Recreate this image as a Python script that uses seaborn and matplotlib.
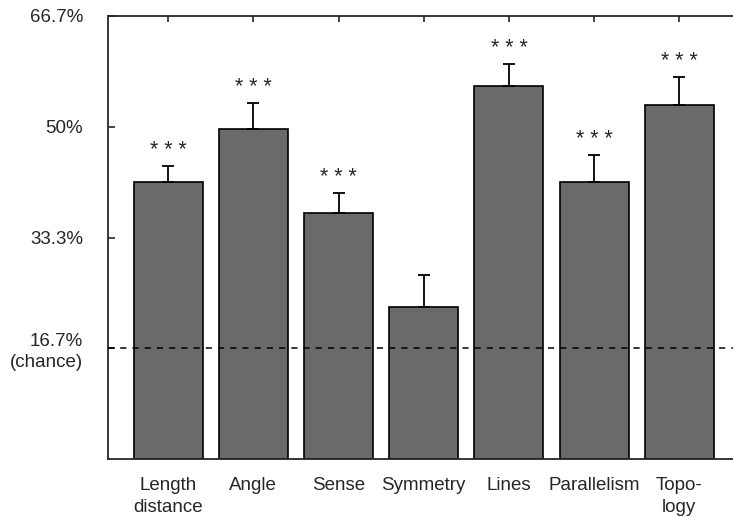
import numpy as np
import matplotlib
matplotlib.use("Agg")
import matplotlib.pyplot as plt
import seaborn as sns

categories = ["Length\ndistance", "Angle", "Sense", "Symmetry", "Lines", "Parallelism", "Topo-\nlogy"]
means = [41.6, 49.6, 37.0, 22.8, 56.1, 41.6, 53.3]
sem = [2.5, 3.9, 3.0, 4.9, 3.3, 4.1, 4.1]
stars = ["***", "***", "***", "", "***", "***", "***"]
chance = 16.7
ytick_vals = [16.7, 33.3, 50, 66.7]
ytick_labels = ["16.7%\n(chance)", "33.3%", "50%", "66.7%"]

sns.set_style("ticks")
plt.rcParams["font.family"] = ["Liberation Sans", "DejaVu Sans"]

fig = plt.figure(figsize=(7.33, 5.17), dpi=100)
ax = fig.add_axes([108 / 733, 58 / 517, 1 - 108 / 733, 443.5 / 517])

sns.barplot(x=categories, y=means, color="#6a6a6a", saturation=1,
            edgecolor="black", linewidth=1.2, width=0.81, ax=ax)

x = np.arange(len(categories))
ax.errorbar(x, means, yerr=[np.zeros(len(sem)), sem], fmt="none",
            ecolor="black", elinewidth=1.3, capsize=4, capthick=1.3, zorder=3)

# significance stars above the error bars
for xi, m, s, st in zip(x, means, sem, stars):
    if st:
        ax.annotate(" ".join(st), (xi, m + s), xytext=(0, 3.5), textcoords="offset points",
                    ha="center", va="bottom", fontsize=15.5)

ax.axhline(chance, color="black", lw=1.1, ls=(0, (4, 4)), zorder=4)

ax.set_ylim(0, 66.7)
ax.set_xlim(-0.706, 6.63)
ax.set_yticks(ytick_vals)
ax.set_yticklabels(ytick_labels, fontsize=13.5, linespacing=1.3)
ax.set_xticks(x)
ax.set_xticklabels(categories, fontsize=13.5, linespacing=1.37)
ax.tick_params(axis="y", direction="in", length=5, pad=18, width=1.2)
ax.tick_params(axis="x", direction="in", length=4, top=True, bottom=False,
               labelbottom=True, labeltop=False, pad=13, width=1.2)
ax.set_xlabel("")
ax.set_ylabel("")
for side in ["left", "top", "bottom"]:
    ax.spines[side].set_linewidth(1.3)
ax.spines["right"].set_visible(False)

fig.savefig("out.png", dpi=100)
